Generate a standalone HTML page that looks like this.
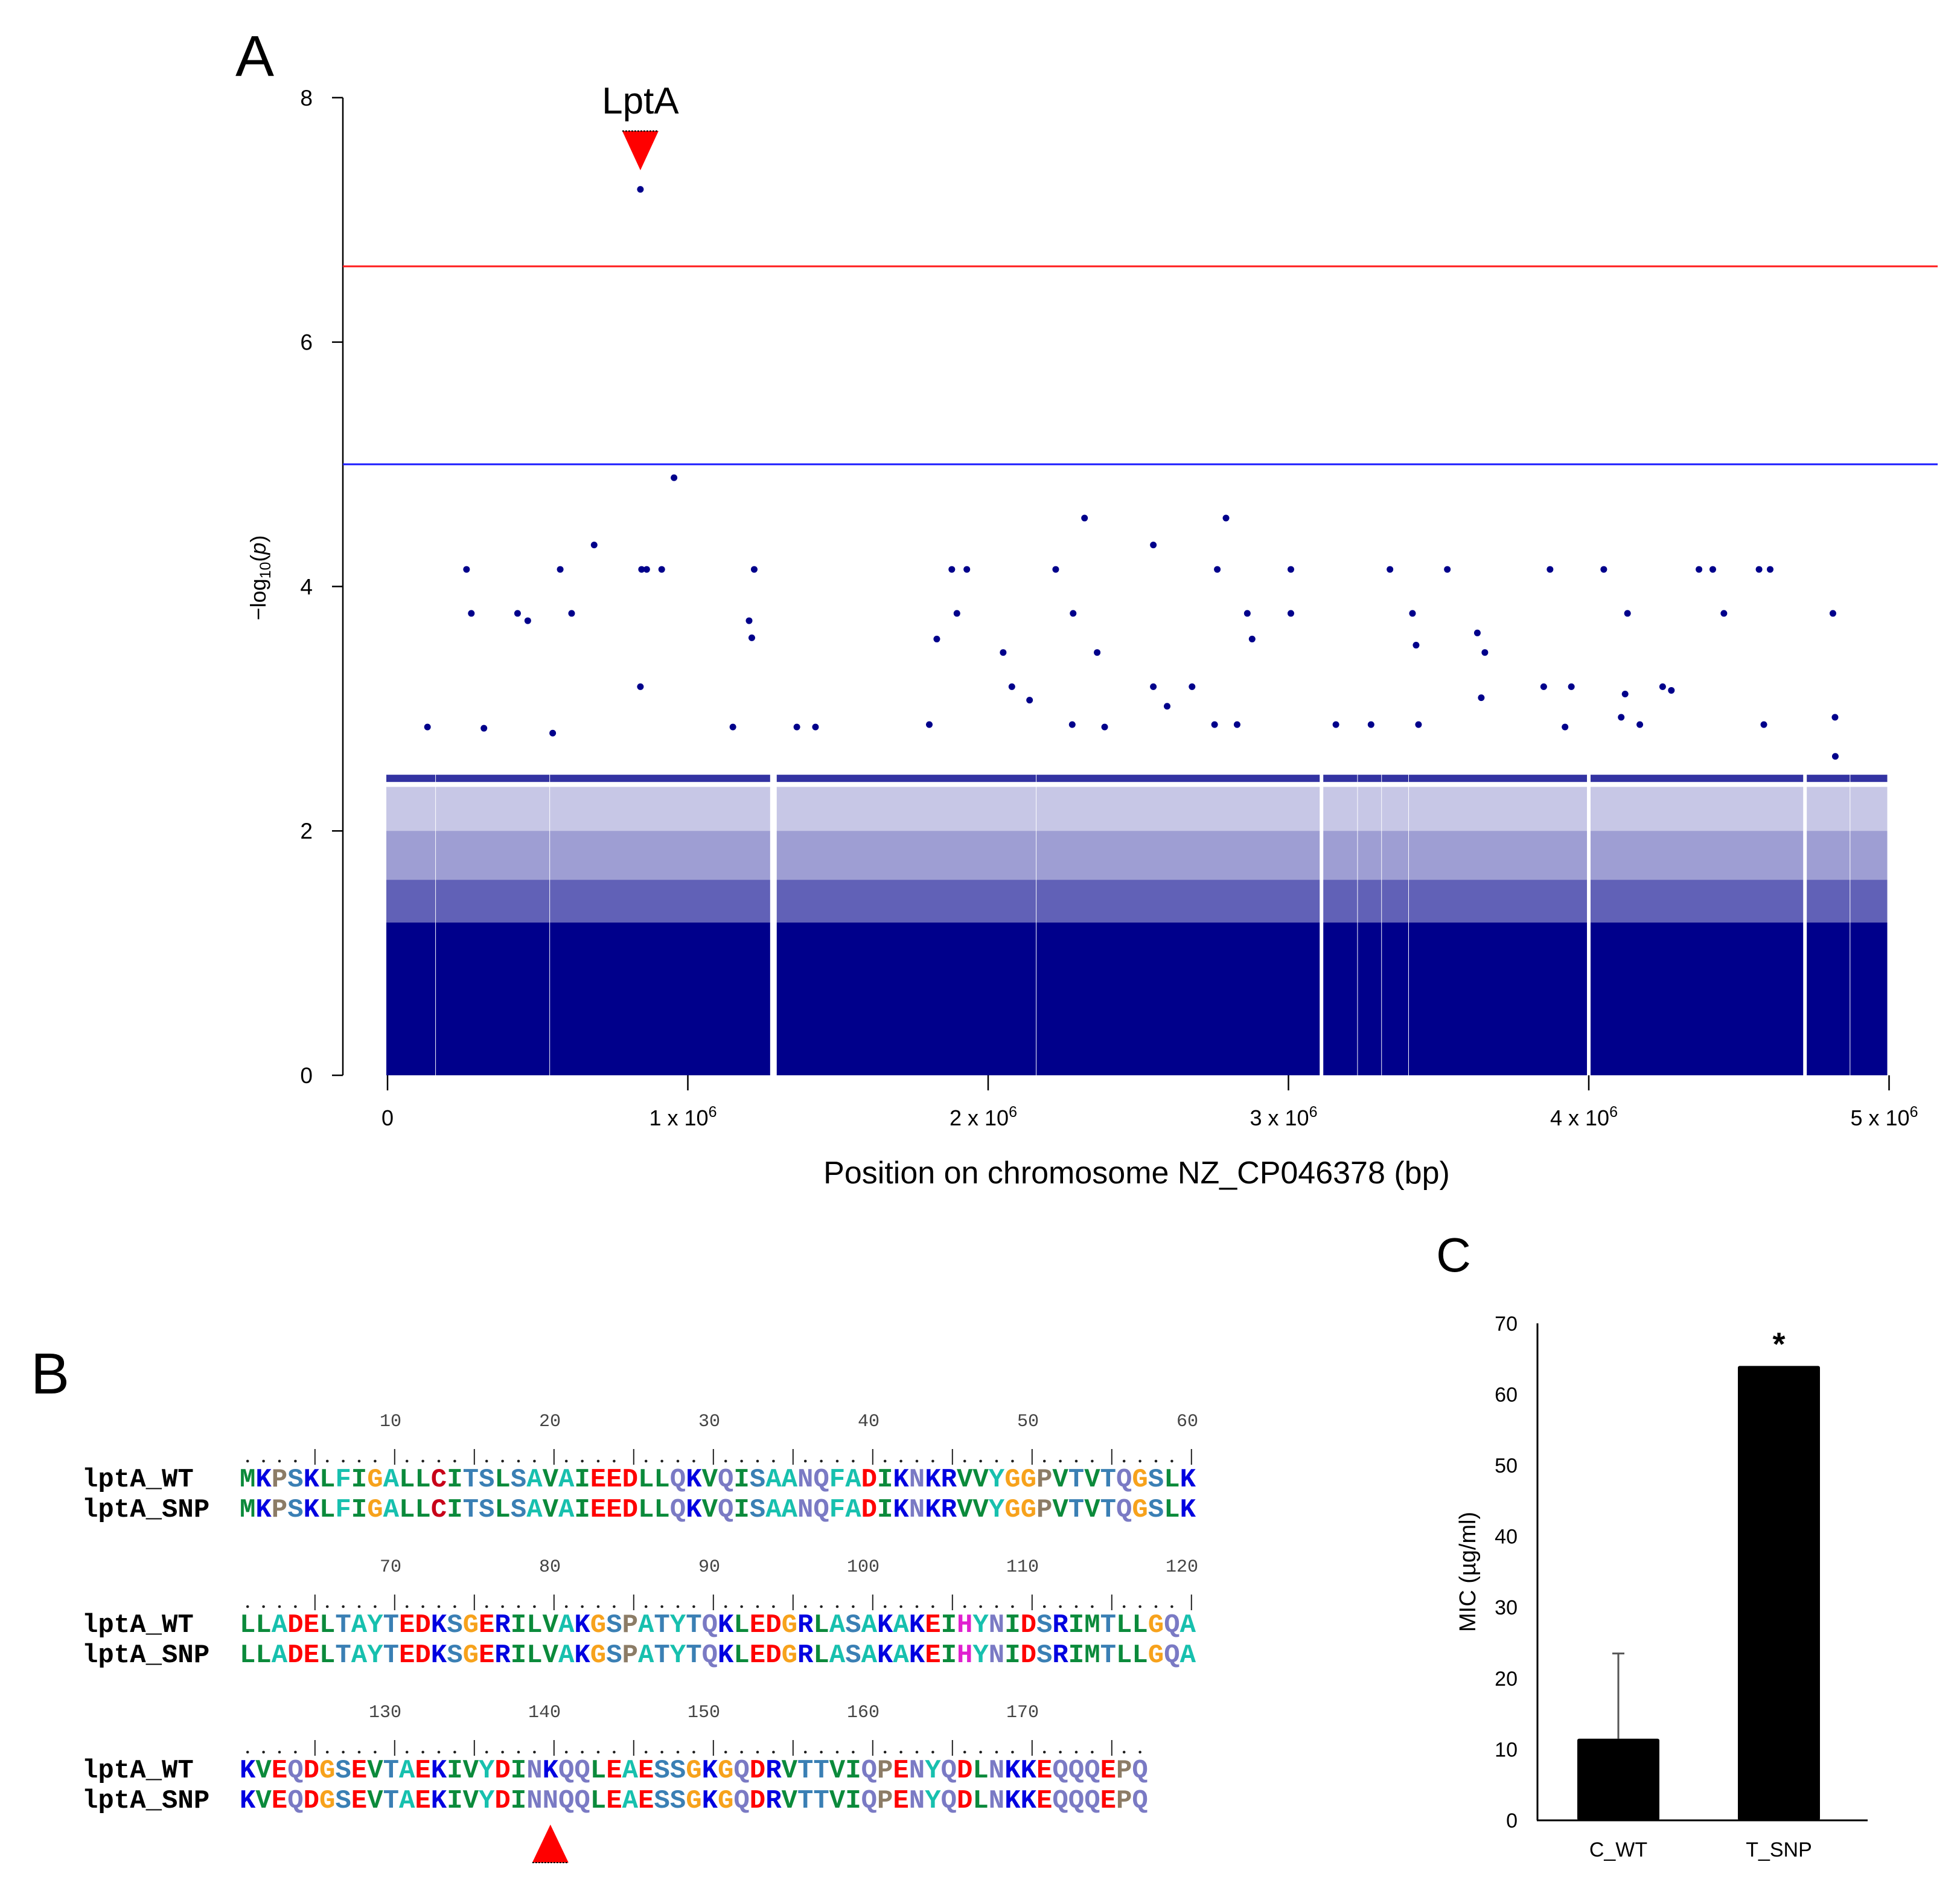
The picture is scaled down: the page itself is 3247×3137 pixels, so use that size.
<!DOCTYPE html>
<html><head><meta charset="utf-8"><style>
html,body{margin:0;padding:0;background:#fff;}
svg{display:block;}
.sans{font-family:"Liberation Sans",sans-serif;}
.mono{font-family:"Liberation Mono",monospace;}
</style></head><body>
<svg id="fig" width="3247" height="3137" viewBox="0 0 3247 3137" xmlns="http://www.w3.org/2000/svg">
<g id="panelA"></g>
<g id="panelB"></g>
<g id="panelC"></g>
</svg>
<script>
// ---------- Panel A data ----------
const yTicksA = [0, 2, 4, 6, 8];
const xTicksA = [0, 1, 2, 3, 4, 5];           // millions of bp
const xTickLabelsA = ["0", "1 x 10", "2 x 10", "3 x 10", "4 x 10", "5 x 10"];
const redThreshold = 6.62;
const blueThreshold = 5.0;
// contiguous blocks of SNP positions (millions of bp)
const segStart = [0.00, 0.165, 0.545, 1.30, 2.165, 3.12, 3.235, 3.315, 3.405, 4.01, 4.73, 4.875];
const segEnd   = [0.155, 0.535, 1.27, 2.155, 3.10, 3.225, 3.305, 3.395, 3.99, 4.71, 4.865, 4.99];
const bulkLevel = 1.25;   // dense mass top (-log10 p)
const bandLevel = 2.43;   // common discrete p-value band
// individual notable points
const ptPos = [0.263,0.279,0.433,0.467,0.575,0.613,0.688,0.842,0.846,0.863,0.913,0.954,0.842,1.221,1.204,1.213,1.829,1.879,1.896,1.929,2.05,2.079,2.138,2.225,2.283,2.321,2.363,2.55,2.55,2.596,2.679,2.763,2.792,2.863,2.879,3.008,3.008,3.338,3.413,3.425,3.529,3.629,3.654,3.642,3.871,3.85,3.942,4.05,4.129,4.121,4.246,4.367,4.413,4.45,4.567,4.604,4.813,4.82,
0.133,0.321,0.55,1.15,1.363,1.425,1.804,2.388,2.754,2.829,3.158,3.275,3.433,3.921,4.108,4.275,4.583,4.821,4.17,2.28];
const ptVal = [4.14,3.78,3.78,3.72,4.14,3.78,4.34,3.18,4.14,4.14,4.14,4.89,7.25,4.14,3.72,3.58,3.57,4.14,3.78,4.14,3.46,3.18,3.07,4.14,3.78,4.56,3.46,4.34,3.18,3.02,3.18,4.14,4.56,3.78,3.57,4.14,3.78,4.14,3.78,3.52,4.14,3.62,3.46,3.09,4.14,3.18,3.18,4.14,3.78,3.12,3.18,4.14,4.14,3.78,4.14,4.14,3.78,2.93,
2.85,2.84,2.8,2.85,2.85,2.85,2.87,2.85,2.87,2.87,2.87,2.87,2.87,2.85,2.93,3.15,2.87,2.61,2.87,2.87];

// ---------- Panel C data ----------
const micCats = ["C_WT", "T_SNP"];
const micVals = [11.5, 64];
const micErr = [12, 0];
const micTicks = [0,10,20,30,40,50,60,70];

// ---------- Panel B data ----------
const seqWT = ["MKPSKLFIGALLCITSLSAVAIEEDLLQKVQISAANQFADIKNKRVVYGGPVTVTQGSLK",
               "LLADELTAYTEDKSGERILVAKGSPATYTQKLEDGRLASAKAKEIHYNIDSRIMTLLGQA",
               "KVEQDGSEVTAEKIVYDINKQQLEAESSGKGQDRVTTVIQPENYQDLNKKEQQQEPQ"];
const seqSNP = ["MKPSKLFIGALLCITSLSAVAIEEDLLQKVQISAANQFADIKNKRVVYGGPVTVTQGSLK",
                "LLADELTAYTEDKSGERILVAKGSPATYTQKLEDGRLASAKAKEIHYNIDSRIMTLLGQA",
                "KVEQDGSEVTAEKIVYDINNQQLEAESSGKGQDRVTTVIQPENYQDLNKKEQQQEPQ"];
const snpPosition = 140;

const NS = "http://www.w3.org/2000/svg";
function mk(tag, attrs, parent, txt){
  const e = document.createElementNS(NS, tag);
  for (const k in attrs) e.setAttribute(k, attrs[k]);
  if (tag === 'text' && !attrs['class']) e.setAttribute('class', 'sans');
  if (txt !== undefined) e.textContent = txt;
  parent.appendChild(e);
  return e;
}

// ===== Panel A =====
(function(){
  const g = document.getElementById('panelA');
  const xA = m => 642 + m * 497.5;
  const yA = v => 1781 - v * 202.4;
  const navy = "#00008b";
  let t = mk('text', {x:422, y:126, 'font-size':96, 'text-anchor':'middle'}, g, 'A');
  
  
  let ax = mk('line', {x1:568, y1:yA(8), x2:568, y2:yA(0), stroke:'#000', 'stroke-width':2.5}, g);
  
  
  yTicksA.forEach(v => {
    let tk = mk('line', {x1:550, y1:yA(v), x2:568, y2:yA(v), stroke:'#000', 'stroke-width':2.5}, g);
    
    
    let tl = mk('text', {x:518, y:yA(v)+13, 'font-size':37, 'text-anchor':'end'}, g, String(v));
    
    
  });
  let yt = mk('text', {transform:'translate(440,957) rotate(-90)', 'font-size':36, 'text-anchor':'middle'}, g);
  
  
  mk('tspan', {}, yt, '\u2212log');
  mk('tspan', {'font-size':25, dy:8}, yt, '10');
  mk('tspan', {dy:-8}, yt, '(');
  mk('tspan', {'font-style':'italic'}, yt, 'p');
  mk('tspan', {}, yt, ')');
  xTicksA.forEach((m, i) => {
    let tk = mk('line', {x1:xA(m), y1:1781, x2:xA(m), y2:1806, stroke:'#000', 'stroke-width':2.5}, g);
    
    
    let tl = mk('text', {x:xA(m) + (i ? -8 : 0), y:1864, 'font-size':36, 'text-anchor':'middle'}, g);
    
    
    mk('tspan', {}, tl, xTickLabelsA[i]);
    if (i) mk('tspan', {'font-size':25, dy:-14}, tl, '6');
  });
  let xt = mk('text', {x:1883, y:1960, 'font-size':52, 'text-anchor':'middle'}, g, 'Position on chromosome NZ_CP046378 (bp)');
  
  
  const layers = [[bulkLevel, 1.6, 0.62], [1.6, 2.0, 0.38], [2.0, 2.36, 0.22]];
  segStart.forEach((s, i) => {
    const x0 = xA(s) - 2, w = xA(segEnd[i]) - xA(s) + 4;
    let r1 = mk('rect', {x:x0, y:yA(bulkLevel), width:w, height:yA(0)-yA(bulkLevel), fill:navy}, g);
    
    
    layers.forEach(([lo, hi, op]) => {
      let r = mk('rect', {x:x0, y:yA(hi), width:w, height:yA(lo)-yA(hi), fill:navy, opacity:op}, g);
      
      
    });
    let r4 = mk('rect', {x:x0, y:yA(bandLevel)-6, width:w, height:12, fill:navy, opacity:0.8}, g);
    
    
  });
  ptPos.forEach((m, i) => {
    let c = mk('circle', {cx:xA(m), cy:yA(ptVal[i]), r:5.5, fill:navy}, g);
    
    
  });
  let rl = mk('line', {x1:568, y1:yA(redThreshold), x2:3210, y2:yA(redThreshold), stroke:'#ff1a1a', 'stroke-width':3}, g);
  
  
  let bl = mk('line', {x1:568, y1:yA(blueThreshold), x2:3210, y2:yA(blueThreshold), stroke:'#1a1aff', 'stroke-width':3}, g);
  
  
  const lx = xA(ptPos[12]);
  let la = mk('text', {x:lx, y:188, 'font-size':62, 'text-anchor':'middle'}, g, 'LptA');
  
  
  let tri = mk('polygon', {points:`${lx-30},217 ${lx+30},217 ${lx},282`, fill:'#ff0000'}, g);
  
  
  mk('line', {x1:lx-30, y1:217, x2:lx+30, y2:217, stroke:'#000', 'stroke-width':2, 'stroke-dasharray':'3,2'}, g);
})();

// ===== Panel B =====
(function(){
  const g = document.getElementById('panelB');
  const colors = {M:'#0b8a3b',L:'#0b8a3b',I:'#0b8a3b',V:'#0b8a3b',
    A:'#17c0ae',F:'#17c0ae',Y:'#17c0ae',W:'#17c0ae',
    K:'#0000e0',R:'#0000e0',D:'#ff0000',E:'#ff0000',C:'#c80018',
    N:'#7a7ac4',Q:'#7a7ac4',S:'#3a7fb4',T:'#3a7fb4',G:'#f7a21c',
    P:'#8c7c66',H:'#e020d0'};
  let bt = mk('text', {x:83, y:2308, 'font-size':96, 'text-anchor':'middle'}, g, 'B');
  
  
  const x0 = 397, cw = 26.4;
  seqWT.forEach((s, b) => {
    const base = 2462 + b * 241;
    const len = s.length;
    for (let n = 10; n <= len; n += 10) {
      let nl = mk('text', {x:x0 + n*cw + 4, y:base - 100, 'font-size':30, fill:'#444', 'text-anchor':'end', 'class':'mono'}, g, String(b*60 + n));
      
      
    }
    for (let i = 0; i < len; i++) {
      const cx = x0 + (i + 0.5) * cw;
      if ((i + 1) % 5 === 0) {
        mk('line', {x1:cx+6, y1:base-62, x2:cx+6, y2:base-36, stroke:'#222', 'stroke-width':2}, g);
      } else {
        mk('circle', {cx:cx, cy:base-42, r:2.3, fill:'#222'}, g);
      }
    }
    [[ 'lptA_WT', s, 0 ], [ 'lptA_SNP', seqSNP[b], 50 ]].forEach(([name, seq, dy]) => {
      let nm = mk('text', {x:136, y:base + dy, 'font-size':44, 'font-weight':'bold', 'class':'mono'}, g, name);
      
      
      const row = mk('text', {y:base + dy, 'font-size':44, 'font-weight':'bold', 'class':'mono', 'text-anchor':'middle'}, g);
      
      
      for (let i = 0; i < seq.length; i++) {
        mk('tspan', {x:x0 + (i + 0.5) * cw, fill:colors[seq[i]] || '#000'}, row, seq[i]);
      }
    });
  });
  const ci = (snpPosition - 1) % 60;
  const sx = x0 + (ci + 0.5) * cw;
  let st = mk('polygon', {points:`${sx},3022 ${sx-30},3085 ${sx+30},3085`, fill:'#ff0000'}, g);
  
  
  mk('line', {x1:sx-30, y1:3085, x2:sx+30, y2:3085, stroke:'#000', 'stroke-width':2, 'stroke-dasharray':'3,2'}, g);
})();

// ===== Panel C =====
(function(){
  const g = document.getElementById('panelC');
  const yC = v => 3015 - v * 11.76;
  const xCenters = [2681, 2947];
  const bw = 136;
  let ct = mk('text', {x:2408, y:2106, 'font-size':80, 'text-anchor':'middle'}, g, 'C');
  
  
  micTicks.forEach(v => {
    let tl = mk('text', {x:2514, y:yC(v)+12, 'font-size':34, 'text-anchor':'end'}, g, String(v));
    
    
  });
  let ya = mk('line', {x1:2547, y1:yC(70), x2:2547, y2:yC(0), stroke:'#000', 'stroke-width':3}, g);
  
  
  let xa = mk('line', {x1:2546, y1:yC(0), x2:3094, y2:yC(0), stroke:'#000', 'stroke-width':3}, g);
  
  
  let yt = mk('text', {transform:`translate(2444,${yC(35)}) rotate(-90)`, 'font-size':38, 'text-anchor':'middle'}, g, 'MIC (\u00b5g/ml)');
  
  
  micVals.forEach((v, i) => {
    const cx = xCenters[i];
    if (micErr[i] > 0) {
      let e = mk('line', {x1:cx, y1:yC(v), x2:cx, y2:yC(v + micErr[i]), stroke:'#555', 'stroke-width':3}, g);
      
      
      mk('line', {x1:cx-10, y1:yC(v + micErr[i]), x2:cx+10, y2:yC(v + micErr[i]), stroke:'#555', 'stroke-width':3}, g);
    }
    let r = mk('rect', {x:cx - bw/2, y:yC(v), width:bw, height:yC(0) - yC(v), fill:'#000', rx:3}, g);
    
    
    let xl = mk('text', {x:cx, y:3075, 'font-size':34, 'text-anchor':'middle'}, g, micCats[i]);
    
    
  });
  let star = mk('text', {x:xCenters[1], y:yC(micVals[1]) - 18, 'font-size':54, 'font-weight':'bold', 'text-anchor':'middle'}, g, '*');
  
  
})();
</script>
</body></html>
